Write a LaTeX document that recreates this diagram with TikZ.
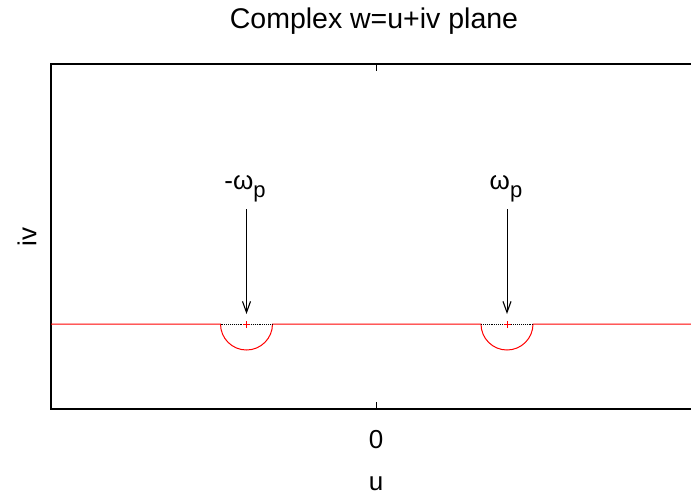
\documentclass[tikz,border=0pt]{standalone}
\usepackage{fontspec}
\setmainfont{Liberation Sans}
\usetikzlibrary{arrows.meta}
\begin{document}
\begin{tikzpicture}[x=1pt,y=-1pt,
  frame/.style={line width=1.2pt,black},
  contour/.style={red,line width=1pt},
  gap/.style={black,densely dotted,line width=0.9pt},
  pointer/.style={line width=0.9pt,-{Straight Barb[length=11pt,width=8pt,line width=1.1pt]}},
  lbl/.style={font=\fontsize{26}{30}\selectfont,inner sep=0pt}]
\useasboundingbox (0,0) rectangle (691,501);
% frame
\draw[frame] (691,64) -- (51,64) -- (51,409) -- (691,409);
\draw[line width=0.9pt] (376,64) -- (376,71);
\draw[line width=0.9pt] (376,409) -- (376,402);
% contour
\coordinate (pm) at (246.5,324);
\coordinate (pp) at (507,324);
\draw[contour] (51,324) -- (220.5,324) arc[start angle=180,end angle=0,radius=26] -- (481,324)
  arc[start angle=180,end angle=0,radius=26] -- (691,324);
\draw[gap] (220.5,324) -- (272.5,324);
\draw[gap] (481,324) -- (533,324);
\draw[red,line width=1pt] ([xshift=-3.5pt]pm) -- ([xshift=3.5pt]pm) ([yshift=-3.5pt]pm) -- ([yshift=3.5pt]pm);
\draw[red,line width=1pt] ([xshift=-3.5pt]pp) -- ([xshift=3.5pt]pp) ([yshift=-3.5pt]pp) -- ([yshift=3.5pt]pp);
% labels and arrows
\node[lbl] (lm) at (245,189) {-ω\raisebox{-0.3em}{\fontsize{22}{24}\selectfont p}};
\node[lbl] (lp) at (506,189) {ω\raisebox{-0.3em}{\fontsize{22}{24}\selectfont p}};
\coordinate (am) at (246.5,209);
\coordinate (ap) at (507,209);
\coordinate (tm) at (246.5,314);
\coordinate (tp) at (507,314);
\draw[pointer] (am) -- (tm);
\draw[pointer] (ap) -- (tp);
% axis labels
\node[lbl] (zero) at (376,440) {0};
\node[lbl] (u) at (376,484) {u};
\node[lbl,rotate=90] (iv) at (27,237) {iv};
\node[lbl,font=\fontsize{28.5}{32}\selectfont] (title) at (374,21) {Complex w=u+iv plane};
\end{tikzpicture}
\end{document}
